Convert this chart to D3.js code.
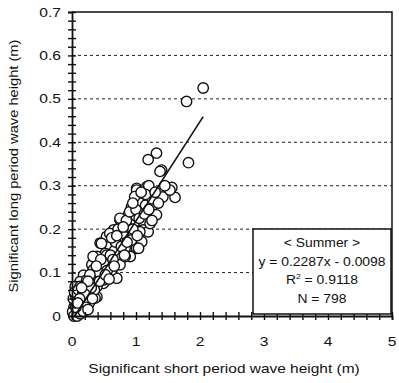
<!DOCTYPE html>
<html>
<head>
<meta charset="utf-8">
<script src="https://cdn.jsdelivr.net/npm/d3@7"></script>
<style>
  body { margin: 0; background: #fff; }
  svg { display: block; font-family: "Liberation Sans", Arial, sans-serif; }
</style>
</head>
<body>
<div id="chart"></div>
<script>
// significant short period wave height (m) vs long period wave height (m)
var sigShort = [
  2.05, 1.79, 1.32, 1.19, 1.82, 1.40, 1.375, 1.01, 1.17, 1.56, 1.61, 1.42, 1.53, 1.27, 0.93, 1.06,
  0.88, 1.32, 1.11, 0.75, 0.65, 0.91, 1.11, 1.19, 0.54, 0.93, 0.78, 1.09, 0.44, 0.59, 0.83, 1.01,
  0.52, 0.39, 0.70, 0.91, 0.59, 0.31, 0.75, 0.46, 0.62, 0.36, 0.18, 0.49, 0.70, 0.125, 0.31, 0.49,
  0.39, 0.23, 0.125, 0.25, 0.07, 0.05,
  1.01, 1.09, 0.75, 1.22, 0.59, 0.85, 1.06, 0.46, 0.72, 0.93, 1.04, 0.33, 0.54, 0.83, 0.62, 0.33,
  0.49, 0.23, 0.39, 0.125, 0.36, 0.18,
  0.02, 0.04, 0.06, 0.08, 0.10, 0.03, 0.05, 0.12, 0.15, 0.09, 0.02, 0.18, 0.20, 0.14, 0.07, 0.11,
  0.16, 0.22, 0.26, 0.30, 0.01, 0.03, 0.08, 0.13, 0.06, 0.04, 0.10, 0.17, 0.28, 0.34, 0.40, 0.20,
  0.56, 0.66, 0.80, 0.97, 1.00, 0.86, 0.68, 0.60, 0.42, 0.28, 0.72, 1.15, 1.25, 0.98, 1.20, 0.62,
  0.50, 0.95,
  0.85, 0.90, 1.00, 1.05, 1.13, 1.20, 1.15, 1.30, 1.08, 0.95, 0.80, 0.70, 0.77, 0.86, 0.64, 0.55,
  0.45, 0.38, 0.43, 0.52, 0.58, 0.35, 0.30, 0.25, 0.20, 0.15, 0.27, 0.32, 0.12, 0.22, 0.18, 0.25,
  0.06, 0.09, 1.25, 1.35, 1.45, 1.02, 0.82, 0.66
];
var sigLong = [
  0.525, 0.494, 0.375, 0.360, 0.353, 0.336, 0.333, 0.294, 0.298, 0.296, 0.273, 0.274, 0.290, 0.256, 0.252, 0.260,
  0.233, 0.233, 0.217, 0.221, 0.198, 0.198, 0.198, 0.194, 0.183, 0.179, 0.175, 0.171, 0.168, 0.160, 0.156, 0.156,
  0.144, 0.137, 0.137, 0.137, 0.121, 0.118, 0.118, 0.114, 0.102, 0.098, 0.094, 0.091, 0.087, 0.079, 0.079, 0.075,
  0.044, 0.064, 0.052, 0.037, 0.033, 0.068,
  0.290, 0.240, 0.225, 0.213, 0.190, 0.187, 0.194, 0.167, 0.160, 0.175, 0.156, 0.137, 0.140, 0.137, 0.106, 0.106,
  0.083, 0.083, 0.068, 0.068, 0.041, 0.044,
  0.005, 0.010, 0.008, 0.015, 0.020, 0.020, 0.030, 0.025, 0.030, 0.040, 0.040, 0.035, 0.030, 0.045, 0.050, 0.010,
  0.015, 0.045, 0.050, 0.055, 0.010, 0.000, 0.000, 0.005, 0.045, 0.055, 0.060, 0.055, 0.070, 0.080, 0.090, 0.070,
  0.125, 0.150, 0.190, 0.215, 0.230, 0.205, 0.170, 0.140, 0.100, 0.095, 0.200, 0.255, 0.270, 0.275, 0.300, 0.180,
  0.120, 0.200,
  0.220, 0.240, 0.245, 0.225, 0.235, 0.245, 0.280, 0.285, 0.285, 0.260, 0.205, 0.185, 0.160, 0.170, 0.130, 0.105,
  0.130, 0.115, 0.080, 0.095, 0.085, 0.060, 0.065, 0.080, 0.050, 0.065, 0.030, 0.040, 0.040, 0.020, 0.010, 0.015,
  0.020, 0.030, 0.220, 0.260, 0.300, 0.185, 0.140, 0.115
];
var yTickLabels = [0, 0.1, 0.2, 0.3, 0.4, 0.5, 0.6, 0.7];
var xTickLabels = [0, 1, 2, 3, 4, 5];
var fit = { slope: 0.2287, intercept: -0.0098, xStart: 0.043, xEnd: 2.05 };
var legendLines = ["< Summer >", "y = 0.2287x - 0.0098", "R2 = 0.9118", "N = 798"];

var W = 399, H = 383;
var margin = { top: 12, right: 7, bottom: 67, left: 72 };
var w = W - margin.left - margin.right;
var h = H - margin.top - margin.bottom;

var svg = d3.select("#chart").append("svg")
  .attr("width", W)
  .attr("height", H);
var g = svg.append("g")
  .attr("transform", "translate(" + margin.left + "," + margin.top + ")");

var x = d3.scaleLinear().domain([0, 5]).range([0, w]);
var y = d3.scaleLinear().domain([0, 0.7]).range([h, 0]);

// the scanned lettering is stretched sideways, so text gets a horizontal scale
function label(sel, px, py, sx, txt, anchor, size) {
  return sel.append("text")
    .attr("transform", "translate(" + px + "," + py + ") scale(" + sx + ",1)")
    .attr("text-anchor", anchor)
    .style("font-size", size + "px")
    .style("fill", "#111")
    .text(txt);
}

/* dashed grid */
g.selectAll("line.grid")
  .data(yTickLabels.slice(1, -1))
  .enter().append("line")
    .attr("class", "grid")
    .attr("x1", 0).attr("x2", w)
    .attr("y1", function(d) { return y(d); })
    .attr("y2", function(d) { return y(d); })
    .style("stroke", "#222")
    .style("stroke-width", 1)
    .style("stroke-dasharray", "3,3");

/* frame top + right */
g.append("path")
  .attr("d", "M0," + y(0.7) + "H" + x(5) + "V" + y(0))
  .style("fill", "none")
  .style("stroke", "#111")
  .style("stroke-width", 1.5);

/* points */
var pts = sigShort.map(function(d, i) { return [d, sigLong[i]]; });
g.selectAll("circle")
  .data(pts)
  .enter().append("circle")
    .attr("cx", function(d) { return x(d[0]); })
    .attr("cy", function(d) { return y(d[1]); })
    .attr("r", 5.2)
    .style("fill", "#fff")
    .style("stroke", "#111")
    .style("stroke-width", 1.4);

/* regression line */
g.append("line")
  .attr("x1", x(fit.xStart)).attr("y1", y(fit.slope * fit.xStart + fit.intercept))
  .attr("x2", x(fit.xEnd)).attr("y2", y(fit.slope * fit.xEnd + fit.intercept))
  .style("stroke", "#111")
  .style("stroke-width", 1.6);

/* axes: minor cross ticks */
var yMinor = g.append("g")
  .call(d3.axisLeft(y).tickValues(d3.range(0, 0.7001, 0.02)).tickSize(4).tickFormat(""));
yMinor.selectAll(".tick line").attr("x1", 4);
var xMinor = g.append("g")
  .attr("transform", "translate(0," + h + ")")
  .call(d3.axisBottom(x).tickValues(d3.range(0, 5.001, 0.2)).tickSize(4).tickFormat(""));
xMinor.selectAll(".tick line").attr("y1", -4);
[yMinor, xMinor].forEach(function(a) {
  a.select(".domain").style("stroke", "#111").style("stroke-width", 1.8);
  a.selectAll(".tick line").style("stroke", "#111").style("stroke-width", 1.4);
});

/* tick labels */
yTickLabels.forEach(function(d) {
  label(g, -11, y(d) + 4.5, 1.2, d === 0 ? "0" : d3.format(".1f")(d), "end", 13);
});
xTickLabels.forEach(function(d) {
  label(g, x(d), h + 30, 1.2, d3.format("d")(d), "middle", 13);
});

/* axis titles */
label(svg, margin.left + w / 2 - 8, 373, 1.19, "Significant short period wave height (m)", "middle", 13);
svg.append("text")
  .attr("transform", "translate(18," + (margin.top + h / 2 + 2) + ") rotate(-90) scale(1.13,1)")
  .attr("text-anchor", "middle")
  .style("font-size", "13px")
  .style("fill", "#111")
  .text("Significant long period wave height (m)");

/* legend box */
var lx = 253, ly = 229, lw = 138, lh = 85;
var leg = svg.append("g");
leg.append("rect")
  .attr("x", lx).attr("y", ly).attr("width", lw).attr("height", lh)
  .style("fill", "#fff")
  .style("stroke", "#111")
  .style("stroke-width", 1.5);
legendLines.forEach(function(d, i) {
  var t = label(leg, lx + lw / 2, ly + 18 + i * 18.5, 1.07, "", "middle", 13);
  if (d.indexOf("R2") === 0) {
    t.append("tspan").text("R");
    t.append("tspan").attr("dy", -5).style("font-size", "8px").text("2");
    t.append("tspan").attr("dy", 5).text(" = 0.9118");
  } else {
    t.text(d);
  }
});
</script>
</body>
</html>
